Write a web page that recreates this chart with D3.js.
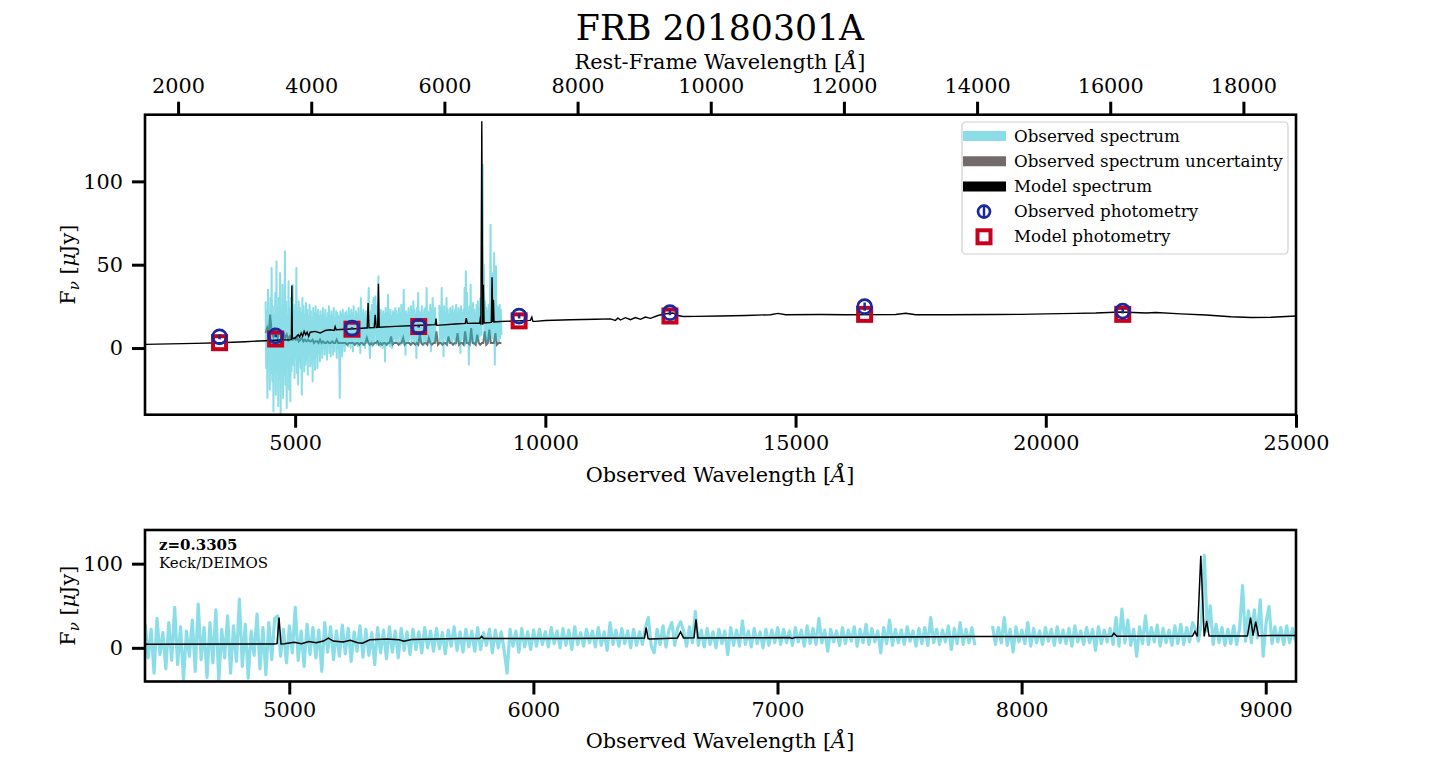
<!DOCTYPE html>
<html lang="en">
<head>
<meta charset="UTF-8">
<title>FRB 20180301A</title>
<script src="https://d3js.org/d3.v7.min.js"></script>
<style>
body { margin: 0; background: #fff; }
svg { font-family: "DejaVu Serif", serif; }
.axis .tick text { font-family: "DejaVu Serif", serif; font-size: 20.8px; fill: #000; }
.axis .tick line { stroke: #000; stroke-width: 3; }
.axis .domain { display: none; }
</style>
</head>
<body>
<svg id="chart" width="1440" height="757"></svg>
<script>
const redshift = 0.3305;

// observed spectrum (Keck/DEIMOS), evenly sampled between obsStart and obsEnd
const obsStart = 4410, obsEnd = 9122;
const obsFlux = [
  28, -12, 22, -30, 35, -8, 18, -25, 30, -15,
  48, -20, 25, -38, 20, -10, 33, -28, 52, -14,
  24, -35, 30, -18, 45, -40, 22, -12, 38, -30,
  26, -16, 58, -22, 28, -36, 20, -9, 40, -25,
  24, -32, 30, -14, 35, 38, -10, 22, -18, 26,
  -6, 48, -15, 20, -22, 28, -8, 24, -12, 21,
  -28, 30, -5, 25, -14, 20, -10, 27, -7, 23,
  -16, 19, -4, 26, -11, 22, -9, 18, -20, 24,
  -6, 21, -13, 25, -5, 20, -12, 23, -3, 19,
  -8, 22, -2, 19, -6, 24, 0, 20, -4, 23,
  -1, 18, -7, 21, 2, 25, -3, 19, -5, 22,
  1, 20, -4, 24, -2, 18, 3, 22, -6, 21,
  0, 19, -3, -30, 22, 2, 20, -5, 23, 1,
  19, -2, 21, 2, 22, 4, 19, 1, 24, 5,
  20, 0, 23, 3, 21, -2, 25, 4, 18, 2,
  22, 6, 20, 1, 24, 3, 19, -3, 30, 4,
  21, 2, 23, 5, 20, 0, 22, 3, 19, 4,
  24, 36, 2, -6, 22, 4, 26, 1, 21, 30,
  3, 24, 31, 20, 2, 25, 6, 43, 3, 21,
  1, 23, 4, 19, 0, 22, 5, 20, -8, 24,
  3, 21, 2, 32, 4, 20, 1, 23, 5, 19,
  0, 22, 3, 21, 6, 24, 4, 22, 6, 20,
  3, 24, 7, 21, 2, 26, 5, 23, 4, 35,
  6, 21, -4, 22, 7, 20, 3, 24, 5, 21,
  8, 25, 2, 22, 6, 28, 4, 23, 7, 20,
  -6, 24, 5, 33, 3, 22, 6, 21, 4, 25,
  8, 20, 2, 23, 5, 24, 3, 36, 6, 22,
  4, 21, 7, 26, -2, 23, 5, 30, 4, 22,
  6, 24, 3, null, null, null, null, null, 26, 4,
  24, 6, 36, 3, 22, -5, 25, 7, 21, 5,
  30, 2, 23, 6, 20, 4, 24, 8, 22, 3,
  25, 6, 21, 5, 23, 2, 26, 7, 20, 4,
  24, 6, 22, -3, 25, 5, 21, 7, 23, 4,
  36, 2, 46, 6, 33, 3, 22, -10, 25, 5,
  38, 4, 24, 7, 27, 2, 23, 6, 21, 3,
  26, 5, 28, 4, 24, 7, 30, 22, 8, 30,
  110, 20, 50, 4, 28, 6, 24, 3, 22, 5,
  26, 4, 23, 74, 8, 44, 6, 45, 12, 57,
  -10, 30, 49, 5, 25, 7, 24, 4, 26, 6,
  23, 8
];

// spectrum uncertainty, same wavelength limits, coarser sampling
const uncFlux = [
  9, 12, 8, 20, 10, 7, 11, 9, 6, 10,
  8, 7, 9, 6, 8, 5, 7, 6, 5, 6,
  5, 6, 4, 5, 6, 4, 5, 4, 5, 4,
  4, 5, 3, 4, 4, 3, 5, 3, 4, 3,
  3, 4, 3, 3, 4, 3, 3, 5, 3, 3,
  3, 3, 3, 3, 2, 3, 3, 3, 3, 2,
  3, 3, 2, 3, 3, 2, 3, 6, 3, 2,
  3, 2, 3, 3, 4, 2, 3, 2, 3, 3,
  2, 3, 3, 7, 2, 3, 3, 3, 2, 3,
  3, 6, 2, 3, 3, 3, 2, 3, 3, 2,
  3, 2, 8, 3, 2, 3, 3, 2, 6, 3,
  2, 3, 3, 10, 2, 3, 3, 2, 3, 3,
  2, 7, 3, 3, 2, 3, 3, 9, 2, 3,
  3, 2, 10, 3, 3, 2, 12, 3, 3, 2,
  8, 3, 2, 3, 3, 10, 2, 3, 11, 3,
  3, 3, 9, 2, 3, 3, 3
];

// full model spectrum (top panel)
const modelWave = [2000, 2500, 3000, 3500, 4000, 4400, 4700, 4900, 4925, 4935, 4945, 5000, 5060, 5090, 5120, 5150, 5180, 5210, 5240, 5270, 5300, 5400, 5500, 5600, 5700, 5780, 5800, 5820, 6000, 6200, 6400, 6440, 6458, 6476, 6580, 6600, 6620, 6650, 6664, 6680, 7000, 7400, 7800, 7815, 7830, 8200, 8400, 8420, 8440, 8690, 8705, 8712, 8730, 8748, 8762, 8776, 8920, 8935, 8950, 8962, 8975, 9100, 9400, 9700, 9730, 9750, 9800, 10000, 10500, 11000, 11300, 11400, 11450, 11500, 11600, 11700, 11800, 11900, 12000, 12100, 12250, 12400, 12550, 12650, 12750, 13000, 13500, 14000, 14500, 14650, 14800, 15500, 16000, 17000, 17200, 17400, 18000, 19000, 19500, 20000, 20600, 21000, 21500, 22000, 22200, 22700, 23200, 23700, 24100, 24500, 25000];
const modelFlux = [2.2, 2.5, 2.8, 3.2, 3.8, 4.4, 4.8, 5.0, 5.2, 37.5, 5.6, 6.0, 8.0, 6.5, 9.0, 7.0, 10.0, 8.0, 9.5, 7.0, 9.5, 10.0, 9.0, 10.5, 11.0, 10.5, 12.8, 11.0, 11.3, 11.6, 12.0, 12.0, 27, 12.1, 12.3, 20, 12.3, 12.4, 38.6, 12.5, 13.0, 13.5, 14.0, 17.7, 13.6, 14.4, 14.8, 18, 14.8, 15.0, 19, 14, 136, 14, 38, 15, 15.4, 42.5, 15.5, 29, 15.6, 15.9, 16.3, 16.6, 18.5, 16.0, 16.0, 16.5, 17.0, 17.3, 17.5, 16.5, 18.0, 16.8, 18.2, 17.0, 18.3, 17.2, 18.6, 17.8, 19.5, 20.6, 21.0, 19.5, 18.9, 19.0, 19.2, 19.5, 20.0, 20.8, 20.0, 20.1, 20.0, 20.1, 20.9, 20.0, 20.0, 20.1, 20.2, 20.5, 20.8, 21.0, 21.6, 21.0, 21.3, 20.5, 19.8, 18.8, 18.3, 18.5, 19.2];

// model spectrum over the observed range (bottom panel)
const modelObsWave = [4410, 4940, 4950, 4958, 4966, 4980, 5020, 5050, 5080, 5110, 5140, 5160, 5180, 5220, 5250, 5280, 5300, 5330, 5400, 5450, 5470, 5500, 5600, 5700, 5780, 5788, 5796, 5900, 6100, 6300, 6455, 6462, 6470, 6476, 6590, 6603, 6615, 6658, 6666, 6674, 6900, 7050, 7060, 7070, 7500, 7800, 8200, 8370, 8378, 8390, 8700, 8710, 8720, 8734, 8748, 8758, 8768, 8925, 8938, 8948, 8959, 8970, 9122];
const modelObsFlux = [4.4, 4.6, 5.0, 36, 4.5, 4.8, 6.5, 5.0, 7.5, 6.0, 8.0, 11.5, 8.0, 7.0, 9.0, 6.0, 5.5, 9.5, 10.5, 9.5, 7.9, 9.8, 10.5, 11.0, 11.0, 13.5, 11.0, 11.0, 11.2, 11.5, 11.6, 24, 11.0, 10.5, 11.8, 19, 11.8, 11.9, 34, 11.8, 12.0, 12.2, 11.2, 12.2, 13.0, 13.4, 13.6, 13.8, 17.4, 13.8, 14.0, 19.5, 13.5, 109.5, 13.5, 32, 14.0, 14.2, 36, 14.5, 31, 14.4, 14.8];

// photometry
const photWave = [3490, 4610, 6136, 7470, 9476, 12490, 16380, 21538];
const photObs = [6.7, 7.3, 11.9, 12.9, 19.2, 21.2, 24.8, 22.2];
const photErr = [1.5, 0.8, 0.5, 0.6, 1.5, 1.5, 2.5, 1.5];
const photModel = [3.2, 5.4, 11.3, 12.9, 16.3, 19.2, 20.2, 20.2];

const topXTicks = [5000, 10000, 15000, 20000, 25000];
const restTicks = [2000, 4000, 6000, 8000, 10000, 12000, 14000, 16000, 18000];
const topYTicks = [0, 50, 100];
const botXTicks = [5000, 6000, 7000, 8000, 9000];
const botYTicks = [0, 100];

const legendLabels = ["Observed spectrum", "Observed spectrum uncertainty", "Model spectrum", "Observed photometry", "Model photometry"];

const cyan = "#17becf", grey = "#736b69", blue = "#1a28a0", red = "#c8001e";

const svg = d3.select("#chart");
const obsWave = obsFlux.map((_, i) => obsStart + i * (obsEnd - obsStart) / (obsFlux.length - 1));
const uncWave = uncFlux.map((_, i) => obsStart + i * (obsEnd - obsStart) / (uncFlux.length - 1));

// panel boxes
const pTop = { x0: 145, x1: 1296, y0: 114.7, y1: 414.7 };
const pBot = { x0: 145, x1: 1296, y0: 530, y1: 681.5 };

const xTop = d3.scaleLinear().domain([2000, 25000]).range([pTop.x0, pTop.x1]);
const xRest = d3.scaleLinear().domain([2000 / (1 + redshift), 25000 / (1 + redshift)]).range([pTop.x0, pTop.x1]);
const yTop = d3.scaleLinear().domain([-40, 140]).range([pTop.y1, pTop.y0]);
const xBot = d3.scaleLinear().domain([4409, 9124]).range([pBot.x0, pBot.x1]);
const yBot = d3.scaleLinear().domain([-40, 140]).range([pBot.y1, pBot.y0]);

const defs = svg.append("defs");
defs.append("clipPath").attr("id", "clipTop").append("rect")
  .attr("x", pTop.x0).attr("y", pTop.y0).attr("width", pTop.x1 - pTop.x0).attr("height", pTop.y1 - pTop.y0);
defs.append("clipPath").attr("id", "clipBot").append("rect")
  .attr("x", pBot.x0).attr("y", pBot.y0).attr("width", pBot.x1 - pBot.x0).attr("height", pBot.y1 - pBot.y0);

function lineFor(x, y) {
  return d3.line().defined(d => d[1] != null).x(d => x(d[0])).y(d => y(d[1]));
}

// ---------- top panel ----------
const gTop = svg.append("g").attr("clip-path", "url(#clipTop)");
const lineTop = lineFor(xTop, yTop);

gTop.append("path").datum(d3.zip(uncWave, uncFlux))
  .attr("d", lineTop).attr("fill", "none").attr("stroke", grey).attr("stroke-width", 2);
gTop.append("path").datum(d3.zip(obsWave, obsFlux))
  .attr("d", lineTop).attr("fill", "none").attr("stroke", cyan).attr("stroke-opacity", 0.5)
  .attr("stroke-width", 2).attr("stroke-linejoin", "round");
gTop.append("path").datum(d3.zip(modelWave, modelFlux))
  .attr("d", lineTop).attr("fill", "none").attr("stroke", "#000").attr("stroke-width", 1.4);

const phot = d3.range(photWave.length);
gTop.selectAll(".msq").data(phot).join("rect").attr("class", "msq")
  .attr("x", i => xTop(photWave[i]) - 6.5).attr("y", i => yTop(photModel[i]) - 6.5)
  .attr("width", 13).attr("height", 13)
  .attr("fill", "none").attr("stroke", red).attr("stroke-width", 4);
gTop.selectAll(".err").data(phot).join("line").attr("class", "err")
  .attr("x1", i => xTop(photWave[i])).attr("x2", i => xTop(photWave[i]))
  .attr("y1", i => yTop(photObs[i] - photErr[i])).attr("y2", i => yTop(photObs[i] + photErr[i]))
  .attr("stroke", blue).attr("stroke-width", 2.5);
gTop.selectAll(".oc").data(phot).join("circle").attr("class", "oc")
  .attr("cx", i => xTop(photWave[i])).attr("cy", i => yTop(photObs[i])).attr("r", 7)
  .attr("fill", "none").attr("stroke", blue).attr("stroke-width", 2.7);

svg.append("g").attr("class", "axis").attr("transform", `translate(0,${pTop.y1})`)
  .call(d3.axisBottom(xTop).tickValues(topXTicks).tickFormat(d3.format("d")).tickSize(13).tickPadding(8));
svg.append("g").attr("class", "axis").attr("transform", `translate(0,${pTop.y0})`)
  .call(d3.axisTop(xRest).tickValues(restTicks).tickFormat(d3.format("d")).tickSize(13).tickPadding(9));
svg.append("g").attr("class", "axis").attr("transform", `translate(${pTop.x0},0)`)
  .call(d3.axisLeft(yTop).tickValues(topYTicks).tickSize(13).tickPadding(9));

svg.append("rect").attr("x", pTop.x0).attr("y", pTop.y0)
  .attr("width", pTop.x1 - pTop.x0).attr("height", pTop.y1 - pTop.y0)
  .attr("fill", "none").attr("stroke", "#000").attr("stroke-width", 2.6);

// ---------- bottom panel ----------
const gBot = svg.append("g").attr("clip-path", "url(#clipBot)");
const lineBot = lineFor(xBot, yBot);
gBot.append("path").datum(d3.zip(obsWave, obsFlux))
  .attr("d", lineBot).attr("fill", "none").attr("stroke", cyan).attr("stroke-opacity", 0.5)
  .attr("stroke-width", 3.2).attr("stroke-linejoin", "round");
gBot.append("path").datum(d3.zip(modelObsWave, modelObsFlux))
  .attr("d", lineBot).attr("fill", "none").attr("stroke", "#000").attr("stroke-width", 1.5);

svg.append("g").attr("class", "axis").attr("transform", `translate(0,${pBot.y1})`)
  .call(d3.axisBottom(xBot).tickValues(botXTicks).tickFormat(d3.format("d")).tickSize(13).tickPadding(8));
svg.append("g").attr("class", "axis").attr("transform", `translate(${pBot.x0},0)`)
  .call(d3.axisLeft(yBot).tickValues(botYTicks).tickSize(13).tickPadding(9));

svg.append("rect").attr("x", pBot.x0).attr("y", pBot.y0)
  .attr("width", pBot.x1 - pBot.x0).attr("height", pBot.y1 - pBot.y0)
  .attr("fill", "none").attr("stroke", "#000").attr("stroke-width", 2.6);

const note = svg.append("text").attr("x", 159).attr("y", 550).attr("font-size", 15);
note.append("tspan").attr("font-weight", "bold").text("z=" + redshift);
note.append("tspan").attr("x", 159).attr("dy", 18).text("Keck/DEIMOS");

// ---------- titles and labels ----------
svg.append("text").attr("x", 720).attr("y", 40).attr("text-anchor", "middle")
  .attr("font-size", 34.7).text("FRB 20180301A");

function wavelengthLabel(x, y, txt) {
  const t = svg.append("text").attr("x", x).attr("y", y).attr("text-anchor", "middle").attr("font-size", 20.8);
  t.append("tspan").text(txt + " [");
  t.append("tspan").attr("font-style", "italic").text("Å");
  t.append("tspan").text("]");
}
wavelengthLabel(720, 69, "Rest-Frame Wavelength");
wavelengthLabel(720, 482, "Observed Wavelength");
wavelengthLabel(720, 748, "Observed Wavelength");

function fluxLabel(cy) {
  const t = svg.append("text").attr("transform", `translate(75,${cy}) rotate(-90)`)
    .attr("text-anchor", "middle").attr("font-size", 20.8);
  t.append("tspan").text("F");
  t.append("tspan").attr("font-style", "italic").attr("font-size", 15).attr("dy", 4).text("ν");
  t.append("tspan").attr("dy", -4).text(" [");
  t.append("tspan").attr("font-style", "italic").text("μ");
  t.append("tspan").text("Jy]");
}
fluxLabel((pTop.y0 + pTop.y1) / 2);
fluxLabel((pBot.y0 + pBot.y1) / 2);

// ---------- legend ----------
const lg = svg.append("g").attr("transform", "translate(962,122)");
lg.append("rect").attr("width", 326).attr("height", 132).attr("rx", 4)
  .attr("fill", "#fff").attr("fill-opacity", 0.8).attr("stroke", "#d0d0d0").attr("stroke-width", 1.2);
legendLabels.forEach((lab, i) => {
  const cy = 14 + i * 25.2;
  if (i === 0) lg.append("line").attr("x1", 1).attr("x2", 44).attr("y1", cy).attr("y2", cy)
    .attr("stroke", cyan).attr("stroke-opacity", 0.5).attr("stroke-width", 10);
  if (i === 1) lg.append("line").attr("x1", 1).attr("x2", 44).attr("y1", cy).attr("y2", cy)
    .attr("stroke", grey).attr("stroke-width", 10);
  if (i === 2) lg.append("line").attr("x1", 1).attr("x2", 44).attr("y1", cy).attr("y2", cy)
    .attr("stroke", "#000").attr("stroke-width", 10);
  if (i === 3) {
    lg.append("line").attr("x1", 22).attr("x2", 22).attr("y1", cy - 7).attr("y2", cy + 7)
      .attr("stroke", blue).attr("stroke-width", 2.5);
    lg.append("circle").attr("cx", 22).attr("cy", cy).attr("r", 6).attr("fill", "none")
      .attr("stroke", blue).attr("stroke-width", 2.7);
  }
  if (i === 4) lg.append("rect").attr("x", 22 - 6.5).attr("y", cy - 6.5).attr("width", 13).attr("height", 13)
    .attr("fill", "none").attr("stroke", red).attr("stroke-width", 4);
  lg.append("text").attr("x", 52).attr("y", cy + 5.5).attr("font-size", 16.7).text(lab);
});
</script>
</body>
</html>
